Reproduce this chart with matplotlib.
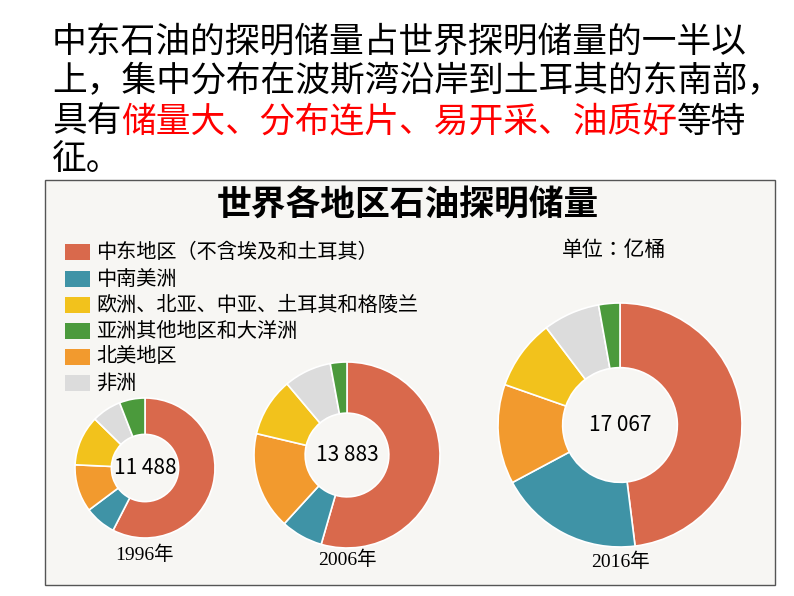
import matplotlib
matplotlib.use("Agg")
import matplotlib.pyplot as plt
from matplotlib import font_manager as fm
from matplotlib.patches import Rectangle

cjk = [f for f in fm.findSystemFonts() if "CJK" in f and ("SC" in f or "Sans" in f)]
cjk.sort(key=lambda f: (0 if "SC" in f else 1, 0 if "Regular" in f else 1))
cjk_bold = [f for f in cjk if "Bold" in f]
if cjk:
    fm.fontManager.addfont(cjk[0])
    name = fm.FontProperties(fname=cjk[0]).get_name()
else:
    name = "Noto Sans CJK SC"
plt.rcParams["font.family"] = [name, "DejaVu Sans"]
serif = ["Liberation Serif", name]

regions = ["中东地区（不含埃及和土耳其）", "中南美洲", "欧洲、北亚、中亚、土耳其和格陵兰",
           "亚洲其他地区和大洋洲", "北美地区", "非洲"]
colors = ["#d9694c", "#3f93a6", "#f2c21c", "#4b9a3c", "#f29a2e", "#dcdcdc"]
years = ["1996年", "2006年", "2016年"]
totals = ["11 488", "13 883", "17 067"]
# order per donut: ME, CSA, NA, Europe, Africa, Asia (clockwise from top)
values = {
    "1996年": [6610, 830, 1260, 1330, 780, 678],
    "2006年": [7727, 1035, 2400, 1440, 1172, 409],
    "2016年": [8197, 3270, 2250, 1590, 1280, 480],
}
order_idx = [0, 1, 4, 2, 5, 3]

fig = plt.figure(figsize=(7.94, 5.96), dpi=100)
ax = fig.add_axes([0, 0, 1, 1])

fs = 25
lines = [
    [("中东石油的探明储量占世界探明储量的一半以", "black")],
    [("上，集中分布在波斯湾沿岸到土耳其的东南部，", "black")],
    [("具有", "black"), ("储量大、分布连片、易开采、油质好", "red"), ("等特", "black")],
    [("征。", "black")],
]
ys = [42, 82, 122, 160]

geo = {"1996年": ((145, 468), 70, 0.52), "2006年": ((347, 455), 93, 0.55), "2016年": ((620, 425), 122, 0.53)}
ylab = {"1996年": 555, "2006年": 560, "2016年": 562}
for yr, tot in zip(years, totals):
    (cx, cy), R, frac = geo[yr]
    ax.pie(values[yr], colors=[colors[i] for i in order_idx], center=(cx, cy), radius=R,
           startangle=-90, counterclock=True,
           wedgeprops=dict(width=R * frac, edgecolor="white", linewidth=1.2, zorder=2), frame=True)
    ax.text(cx, cy, tot, fontsize=15, ha="center", va="center")
    ax.text(cx, ylab[yr], yr, fontsize=14, family=serif, ha="center", va="center")

ax.set_xlim(0, 794); ax.set_ylim(596, 0); ax.set_aspect("equal"); ax.axis("off")
for y, segs in zip(ys, lines):
    x = 52
    for txt, c in segs:
        ax.text(x, y, txt, fontsize=fs, color=c, va="center", ha="left")
        x += len(txt) * fs * 100 / 72
ax.add_patch(Rectangle((45, 180), 730, 405, facecolor="#f7f6f3", edgecolor="#555555", lw=1, zorder=0))
tkw = {}
if cjk_bold:
    tkw["fontproperties"] = fm.FontProperties(fname=cjk_bold[0], size=25)
else:
    tkw.update(fontsize=25, fontweight="bold")
ax.text(408, 205, "世界各地区石油探明储量", ha="center", va="center", **tkw)
ly = [252, 279, 305, 331, 357, 383]
for r, c, y in zip(regions, colors, ly):
    ax.add_patch(Rectangle((65, y - 8), 25, 16, facecolor=c, edgecolor="none"))
    ax.text(96, y, r, fontsize=14.5, va="center", ha="left")
ax.text(562, 250, "单位：亿桶", fontsize=15, va="center", ha="left")
fig.savefig("out.png", dpi=100)
